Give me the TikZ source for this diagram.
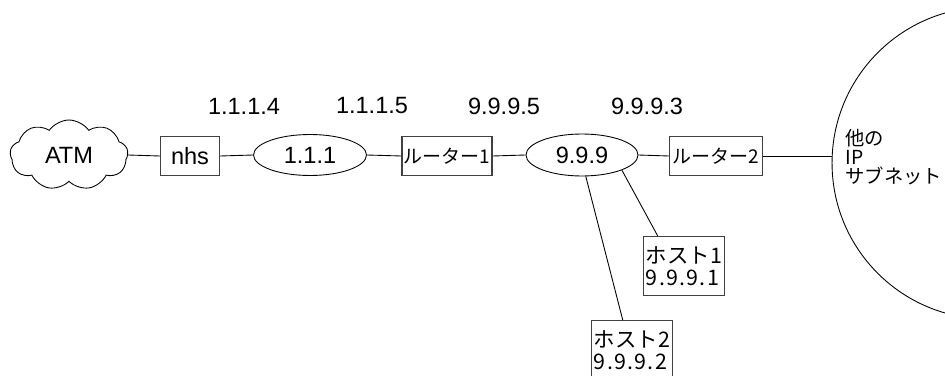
\documentclass[tikz,border=0pt]{standalone}
\usepackage{fontspec}
\setmainfont{Liberation Sans}
\newfontfamily\jpfont{Noto Sans CJK JP}
\newfontfamily\jpwide[LetterSpace=6]{Noto Sans CJK JP}
\usetikzlibrary{shapes.geometric,shapes.symbols}

\begin{document}
\begin{tikzpicture}[x=0.02cm,y=-0.02cm,
	every node/.style={font=\fontsize{13.4}{16}\selectfont},
	box/.style={draw=black!75, line width=0.6pt, minimum height=0.78cm, inner sep=2pt},
	subnet/.style={draw, ellipse, line width=0.5pt, minimum width=2.26cm, minimum height=0.82cm},
	host/.style={box, align=left, minimum width=1.6cm, minimum height=1.18cm, inner sep=1.5pt, font=\jpfont\fontsize{12.2}{12.8}\selectfont},
	link/.style={line width=0.5pt}]
			\useasboundingbox (0,0) rectangle (945,375);

			% ATM cloud and the row of nodes
			\node[cloud, draw, line width=0.5pt, cloud puffs=9, cloud puff arc=110, aspect=1.6, minimum width=2.36cm, minimum height=1.4cm, inner sep=0pt] (atm) at (69,155) {ATM};
			\node[box, minimum width=1.18cm] (nhs) at (190,156) {nhs};
			\node[subnet] (s111) at (310,155) {1.1.1};
			\node[box, minimum width=1.8cm, inner sep=1pt, font=\jpfont\fontsize{10.8}{12}\selectfont] (r1) at (447,156) {ルーター1};
			\node[subnet, minimum width=2.24cm, minimum height=0.84cm] (s999) at (582,155) {9.9.9};
			\node[box, minimum width=1.86cm, inner sep=1pt, font=\jpfont\fontsize{10.8}{12}\selectfont] (r2) at (716,156) {ルーター2};

			% other IP subnet on the right
			\node[circle, draw, line width=0.5pt, minimum size=6.24cm] (other) at (988,163) {};
			\node[anchor=west, align=left, inner sep=0pt, font=\jpfont\fontsize{11}{11}\selectfont] (otherlbl) at (845,157) {他の\\IP\\サブネット};

			% hosts on the 9.9.9 subnet
			\node[host] (h1) at (684,266) {ホスト1\\{\jpwide 9.9.9.1}};
			\node[host] (h2) at (632,350) {ホスト2\\{\jpwide 9.9.9.2}};

			% Addresses above the row
			\node (a4) at (244,106) {1.1.1.4};
			\node (a5) at (372,106) {1.1.1.5};
			\node (a95) at (504,106) {9.9.9.5};
			\node (a93) at (647,106) {9.9.9.3};

			% Draw links
			\draw[link] (atm.east) -- (nhs.west);
			\draw[link] (nhs.east) -- (s111.west);
			\draw[link] (s111.east) -- (r1.west);
			\draw[link] (r1.east) -- (s999.west);
			\draw[link] (s999.east) -- (r2.west);
			\draw[link] (r2.east) -- (r2.east -| other.west);
			\draw[link] (s999.south east) -- ([xshift=0.3cm]h1.north west);
			\draw[link] (s999.-80) -- ([xshift=0.64cm]h2.north west);
		\end{tikzpicture}
\end{document}
